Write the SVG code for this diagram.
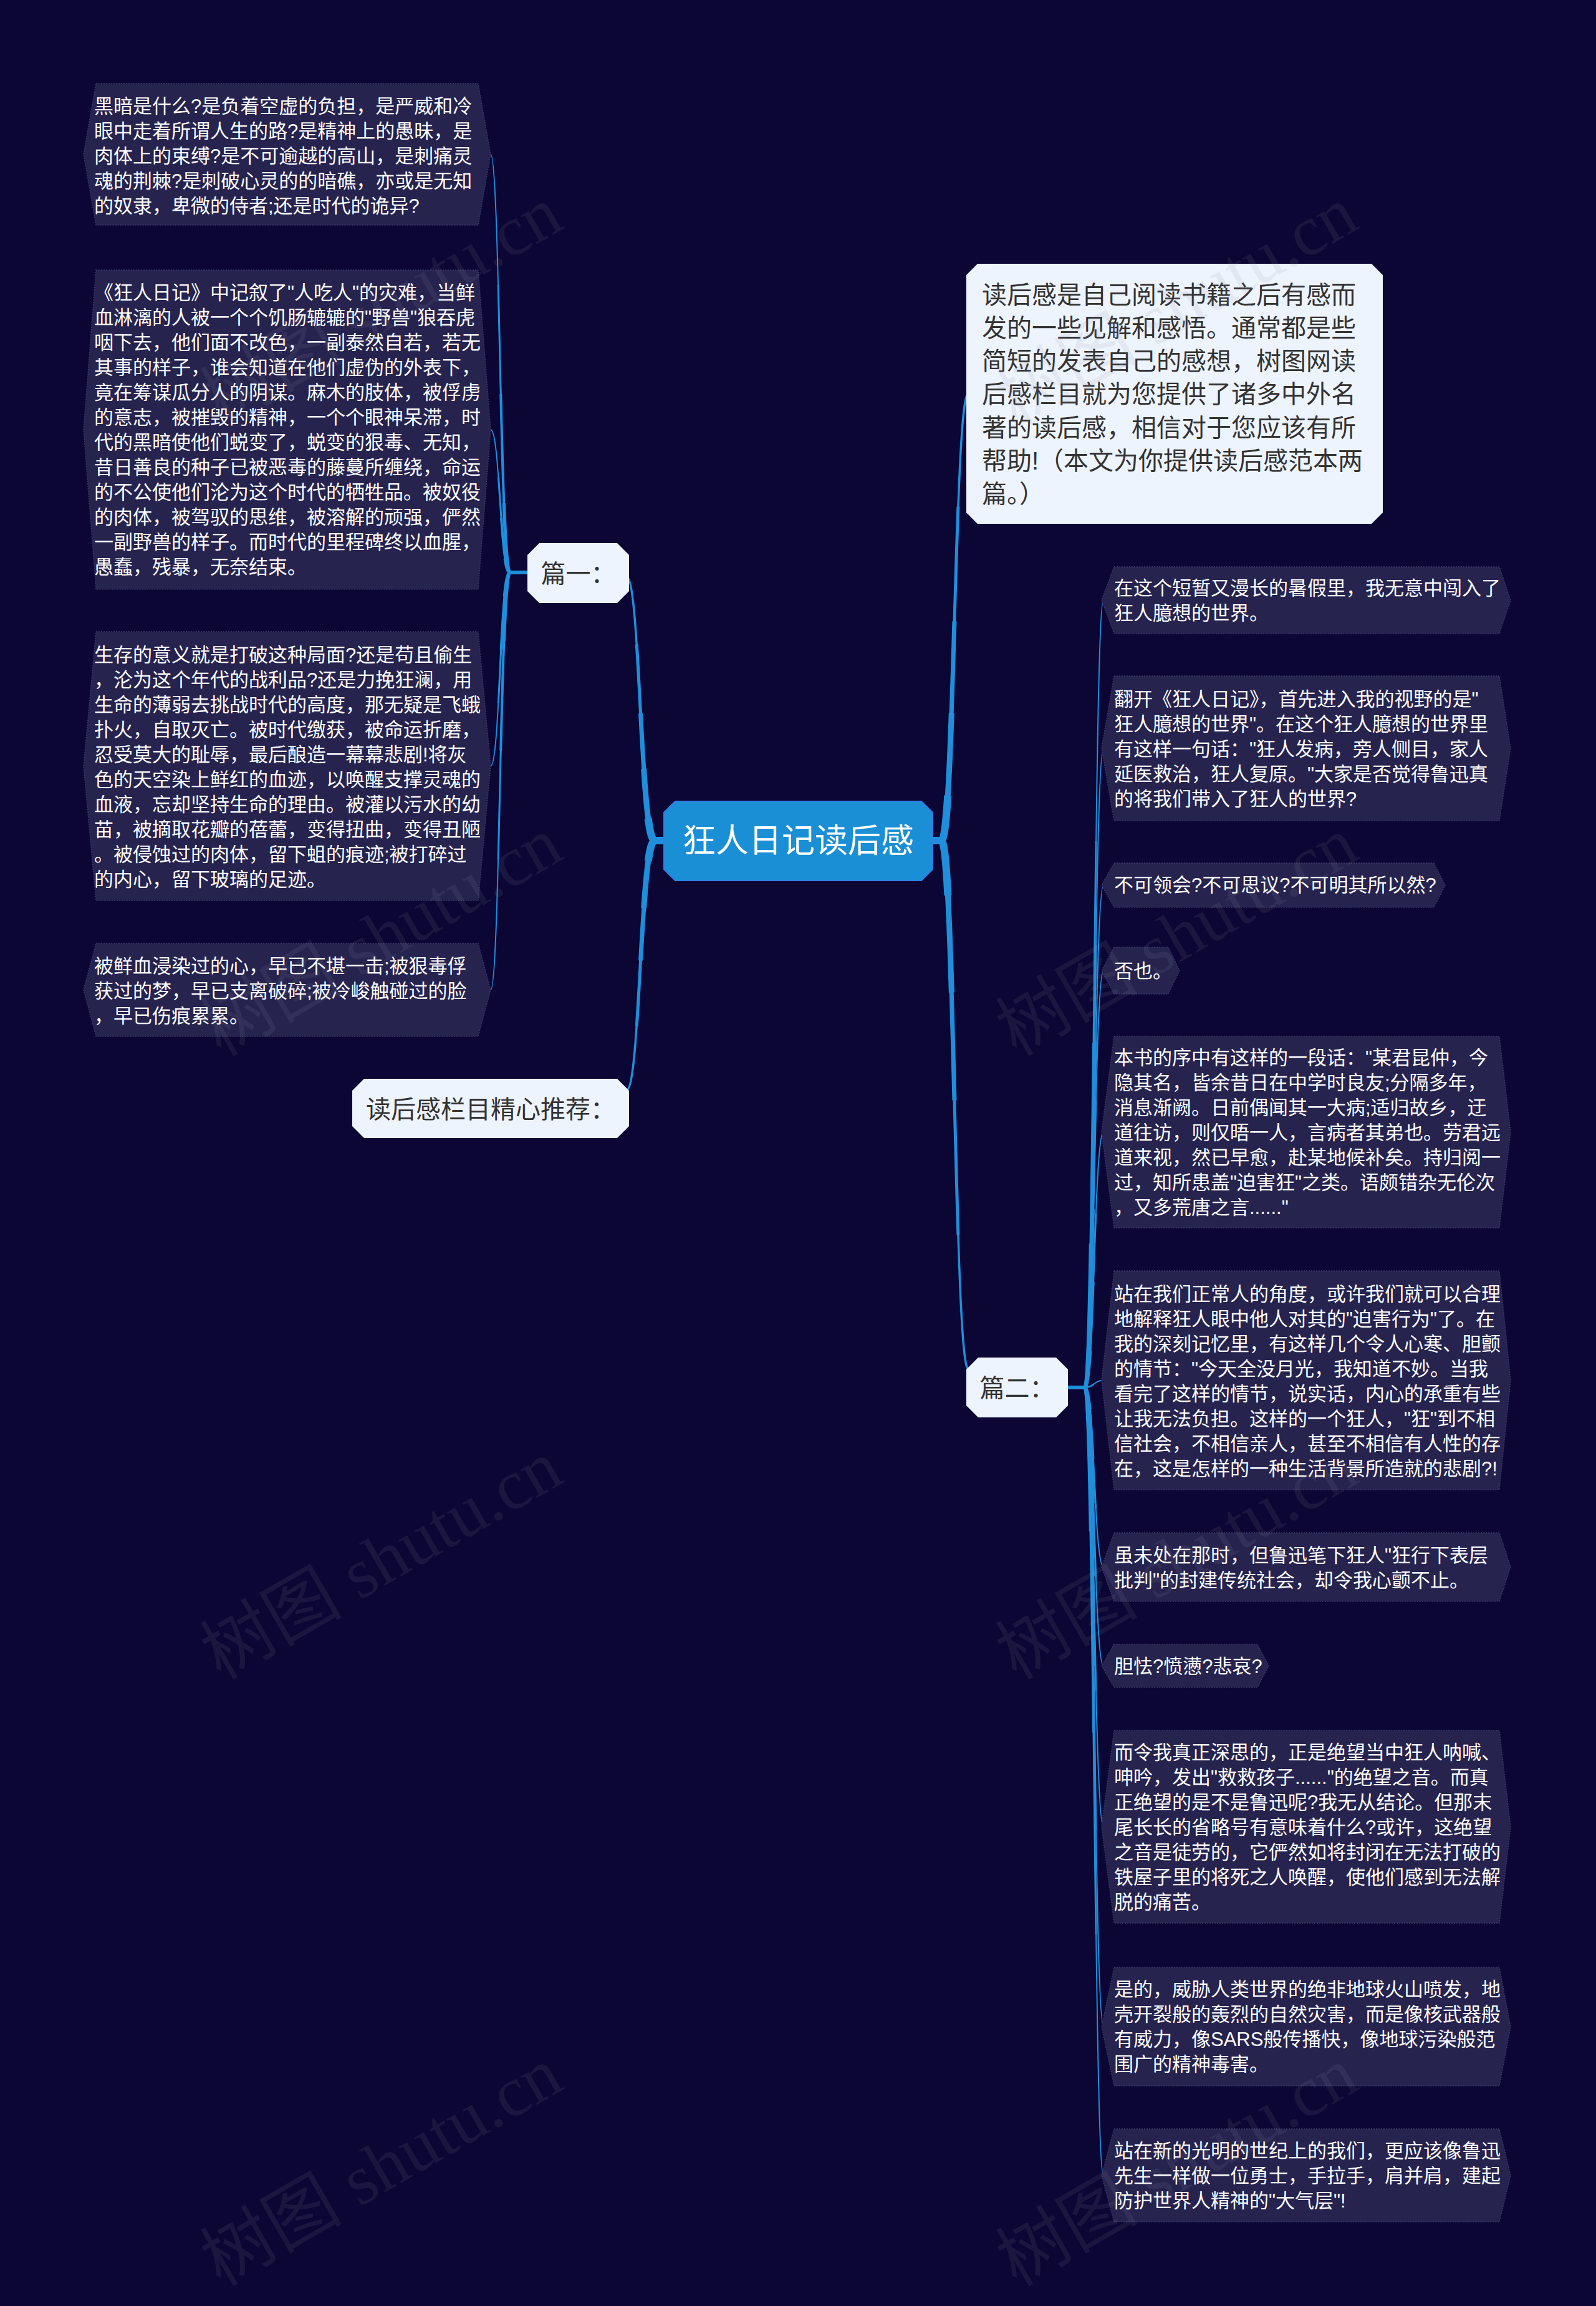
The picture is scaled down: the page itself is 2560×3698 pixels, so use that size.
<svg xmlns="http://www.w3.org/2000/svg" xmlns:xlink="http://www.w3.org/1999/xlink" width="2560" height="3698" viewBox="0 0 2560 3698">
<style>
.bg{fill:#0b0633}
.dk{fill:#26234f;stroke:#3b3867;stroke-width:1.5;stroke-dasharray:2 2}
.lt{fill:#eef4fd}
.rt{fill:#1b8fd6;stroke:#2f7fe6;stroke-width:2}
.tw{font-family:"Liberation Sans","Noto Sans CJK SC",sans-serif;font-size:31px;fill:#ffffff}
.td{font-family:"Liberation Sans","Noto Sans CJK SC",sans-serif;font-size:40px;fill:#333333}
.tr{font-family:"Liberation Sans","Noto Sans CJK SC",sans-serif;font-size:53px;fill:#ffffff}
.a1{stroke-width:3.5}
.a2{stroke-width:5;stroke-dasharray:75 100}
.a3{stroke-width:7;stroke-dasharray:50 100}
.a4{stroke-width:9;stroke-dasharray:30 100}
.a5{stroke-width:12;stroke-dasharray:12 100}
.b1{stroke-width:2}
.b2{stroke-width:3;stroke-dasharray:70 100}
.b3{stroke-width:4;stroke-dasharray:45 100}
.b4{stroke-width:5.5;stroke-dasharray:20 100}
.wm{font-family:"Liberation Serif","Noto Sans CJK SC",serif;font-size:114px;fill:#8a8aa6;fill-opacity:0.12}
</style>
<rect class="bg" x="0" y="0" width="2560" height="3698"/>

<g id="connectors" fill="none" stroke="#1f8fdb">
  <g class="a1">
    <g id="rootlinks">
      <path pathLength="100" d="M1065,1348 H1050 C1027,1348 1027,925 1005,925"/>
      <path pathLength="100" d="M1065,1348 H1050 C1027,1348 1027,1748 1005,1748"/>
      <path pathLength="100" d="M1496,1348 H1510 C1531,1348 1531,631 1553,631"/>
      <path pathLength="100" d="M1496,1348 H1510 C1531,1348 1531,2195 1553,2195"/>
    </g>
  </g>
  <use xlink:href="#rootlinks" class="a2"/>
  <use xlink:href="#rootlinks" class="a3"/>
  <use xlink:href="#rootlinks" class="a4"/>
  <use xlink:href="#rootlinks" class="a5"/>
  <g class="b1">
    <g id="childlinks">
      <path pathLength="100" d="M846,918 H818 C802,918 802,247.5 787,247.5"/>
      <path pathLength="100" d="M846,918 H818 C802,918 802,689 787,689"/>
      <path pathLength="100" d="M846,918 H818 C802,918 802,1228.5 787,1228.5"/>
      <path pathLength="100" d="M846,918 H818 C802,918 802,1587.5 787,1587.5"/>
      <path pathLength="100" d="M1713,2225 H1740 C1755,2225 1755,962.5 1770,962.5"/>
      <path pathLength="100" d="M1713,2225 H1740 C1755,2225 1755,1200 1770,1200"/>
      <path pathLength="100" d="M1713,2225 H1740 C1755,2225 1755,1419.5 1770,1419.5"/>
      <path pathLength="100" d="M1713,2225 H1740 C1755,2225 1755,1556.5 1770,1556.5"/>
      <path pathLength="100" d="M1713,2225 H1740 C1755,2225 1755,1815.5 1770,1815.5"/>
      <path pathLength="100" d="M1713,2225 H1740 C1755,2225 1755,2213.5 1770,2213.5"/>
      <path pathLength="100" d="M1713,2225 H1740 C1755,2225 1755,2513 1770,2513"/>
      <path pathLength="100" d="M1713,2225 H1740 C1755,2225 1755,2671.5 1770,2671.5"/>
      <path pathLength="100" d="M1713,2225 H1740 C1755,2225 1755,2929.5 1770,2929.5"/>
      <path pathLength="100" d="M1713,2225 H1740 C1755,2225 1755,3250 1770,3250"/>
      <path pathLength="100" d="M1713,2225 H1740 C1755,2225 1755,3488.5 1770,3488.5"/>
    </g>
  </g>
  <use xlink:href="#childlinks" class="b2"/>
  <use xlink:href="#childlinks" class="b3"/>
  <use xlink:href="#childlinks" class="b4"/>
</g>

<g id="root">
  <polygon class="rt" points="1083,1285 1478,1285 1496,1303 1496,1394 1478,1412 1083,1412 1065,1394 1065,1303"/>
  <text class="tr" x="1280.5" y="1367" text-anchor="middle">狂人日记读后感</text>
</g>

<g id="summary">
  <polygon class="lt" points="1568,423 2200,423 2218,441 2218,822 2200,840 1568,840 1550,822 1550,441"/>
  <text class="td" x="1575" y="487">
    <tspan x="1575" y="487">读后感是自己阅读书籍之后有感而</tspan>
    <tspan x="1575" y="540">发的一些见解和感悟。通常都是些</tspan>
    <tspan x="1575" y="593">简短的发表自己的感想，树图网读</tspan>
    <tspan x="1575" y="646">后感栏目就为您提供了诸多中外名</tspan>
    <tspan x="1575" y="700">著的读后感，相信对于您应该有所</tspan>
    <tspan x="1575" y="753">帮助!（本文为你提供读后感范本两</tspan>
    <tspan x="1575" y="806">篇。）</tspan>
  </text>
</g>

<g id="part1">
  <polygon class="lt" points="865,871 990,871 1009,890 1009,948 990,967 865,967 846,948 846,890"/>
  <text class="td" x="927.5" y="934" text-anchor="middle">篇一：</text>
</g>

<g id="recommend">
  <polygon class="lt" points="584,1730 990,1730 1009,1749 1009,1806 990,1825 584,1825 565,1806 565,1749"/>
  <text class="td" x="787" y="1793" text-anchor="middle">读后感栏目精心推荐：</text>
</g>

<g id="part2">
  <polygon class="lt" points="1569,2177 1694,2177 1713,2196 1713,2254 1694,2273 1569,2273 1550,2254 1550,2196"/>
  <text class="td" x="1631.5" y="2240" text-anchor="middle">篇二：</text>
</g>

<g id="p1-1">
  <polygon class="dk" points="154,134 767,134 787,247.5 767,361 154,361 134,247.5"/>
  <text class="tw">
    <tspan x="151" y="181">黑暗是什么?是负着空虚的负担，是严威和冷</tspan>
    <tspan x="151" dy="40">眼中走着所谓人生的路?是精神上的愚昧，是</tspan>
    <tspan x="151" dy="40">肉体上的束缚?是不可逾越的高山，是刺痛灵</tspan>
    <tspan x="151" dy="40">魂的荆棘?是刺破心灵的的暗礁，亦或是无知</tspan>
    <tspan x="151" dy="40">的奴隶，卑微的侍者;还是时代的诡异?</tspan>
  </text>
</g>

<g id="p1-2">
  <polygon class="dk" points="154,433 767,433 787,689 767,945 154,945 134,689"/>
  <text class="tw">
    <tspan x="151" y="480">《狂人日记》中记叙了"人吃人"的灾难，当鲜</tspan>
    <tspan x="151" dy="40">血淋漓的人被一个个饥肠辘辘的"野兽"狼吞虎</tspan>
    <tspan x="151" dy="40">咽下去，他们面不改色，一副泰然自若，若无</tspan>
    <tspan x="151" dy="40">其事的样子，谁会知道在他们虚伪的外表下，</tspan>
    <tspan x="151" dy="40">竟在筹谋瓜分人的阴谋。麻木的肢体，被俘虏</tspan>
    <tspan x="151" dy="40">的意志，被摧毁的精神，一个个眼神呆滞，时</tspan>
    <tspan x="151" dy="40">代的黑暗使他们蜕变了，蜕变的狠毒、无知，</tspan>
    <tspan x="151" dy="40">昔日善良的种子已被恶毒的藤蔓所缠绕，命运</tspan>
    <tspan x="151" dy="40">的不公使他们沦为这个时代的牺牲品。被奴役</tspan>
    <tspan x="151" dy="40">的肉体，被驾驭的思维，被溶解的顽强，俨然</tspan>
    <tspan x="151" dy="40">一副野兽的样子。而时代的里程碑终以血腥，</tspan>
    <tspan x="151" dy="40">愚蠢，残暴，无奈结束。</tspan>
  </text>
</g>

<g id="p1-3">
  <polygon class="dk" points="154,1013 767,1013 787,1228.5 767,1444 154,1444 134,1228.5"/>
  <text class="tw">
    <tspan x="151" y="1061">生存的意义就是打破这种局面?还是苟且偷生</tspan>
    <tspan x="151" dy="40">，沦为这个年代的战利品?还是力挽狂澜，用</tspan>
    <tspan x="151" dy="40">生命的薄弱去挑战时代的高度，那无疑是飞蛾</tspan>
    <tspan x="151" dy="40">扑火，自取灭亡。被时代缴获，被命运折磨，</tspan>
    <tspan x="151" dy="40">忍受莫大的耻辱，最后酿造一幕幕悲剧!将灰</tspan>
    <tspan x="151" dy="40">色的天空染上鲜红的血迹，以唤醒支撑灵魂的</tspan>
    <tspan x="151" dy="40">血液，忘却坚持生命的理由。被灌以污水的幼</tspan>
    <tspan x="151" dy="40">苗，被摘取花瓣的蓓蕾，变得扭曲，变得丑陋</tspan>
    <tspan x="151" dy="40">。被侵蚀过的肉体，留下蛆的痕迹;被打碎过</tspan>
    <tspan x="151" dy="40">的内心，留下玻璃的足迹。</tspan>
  </text>
</g>

<g id="p1-4">
  <polygon class="dk" points="154,1513 767,1513 787,1587.5 767,1662 154,1662 134,1587.5"/>
  <text class="tw">
    <tspan x="151" y="1560">被鲜血浸染过的心，早已不堪一击;被狠毒俘</tspan>
    <tspan x="151" dy="40">获过的梦，早已支离破碎;被冷峻触碰过的脸</tspan>
    <tspan x="151" dy="40">，早已伤痕累累。</tspan>
  </text>
</g>

<g id="p2-1">
  <polygon class="dk" points="1787,909 2405,909 2423,962.5 2405,1016 1787,1016 1767,962.5"/>
  <text class="tw">
    <tspan x="1787" y="954">在这个短暂又漫长的暑假里，我无意中闯入了</tspan>
    <tspan x="1787" dy="40">狂人臆想的世界。</tspan>
  </text>
</g>

<g id="p2-2">
  <polygon class="dk" points="1787,1084 2405,1084 2423,1200 2405,1316 1787,1316 1767,1200"/>
  <text class="tw">
    <tspan x="1787" y="1132">翻开《狂人日记》，首先进入我的视野的是"</tspan>
    <tspan x="1787" dy="40">狂人臆想的世界"。在这个狂人臆想的世界里</tspan>
    <tspan x="1787" dy="40">有这样一句话："狂人发病，旁人侧目，家人</tspan>
    <tspan x="1787" dy="40">延医救治，狂人复原。"大家是否觉得鲁迅真</tspan>
    <tspan x="1787" dy="40">的将我们带入了狂人的世界?</tspan>
  </text>
</g>

<g id="p2-3">
  <polygon class="dk" points="1787,1384 2300,1384 2318,1419.5 2300,1455 1787,1455 1767,1419.5"/>
  <text class="tw" x="1787" y="1430">不可领会?不可思议?不可明其所以然?</text>
</g>

<g id="p2-4">
  <polygon class="dk" points="1787,1519 1874,1519 1892,1556.5 1874,1594 1787,1594 1767,1556.5"/>
  <text class="tw" x="1787" y="1568">否也。</text>
</g>

<g id="p2-5">
  <polygon class="dk" points="1787,1662 2405,1662 2423,1815.5 2405,1969 1787,1969 1767,1815.5"/>
  <text class="tw">
    <tspan x="1787" y="1707">本书的序中有这样的一段话："某君昆仲，今</tspan>
    <tspan x="1787" dy="40">隐其名，皆余昔日在中学时良友;分隔多年，</tspan>
    <tspan x="1787" dy="40">消息渐阙。日前偶闻其一大病;适归故乡，迂</tspan>
    <tspan x="1787" dy="40">道往访，则仅晤一人，言病者其弟也。劳君远</tspan>
    <tspan x="1787" dy="40">道来视，然已早愈，赴某地候补矣。持归阅一</tspan>
    <tspan x="1787" dy="40">过，知所患盖"迫害狂"之类。语颇错杂无伦次</tspan>
    <tspan x="1787" dy="40">，又多荒唐之言......"</tspan>
  </text>
</g>

<g id="p2-6">
  <polygon class="dk" points="1787,2038 2405,2038 2423,2213.5 2405,2389 1787,2389 1767,2213.5"/>
  <text class="tw">
    <tspan x="1787" y="2086">站在我们正常人的角度，或许我们就可以合理</tspan>
    <tspan x="1787" dy="40">地解释狂人眼中他人对其的"迫害行为"了。在</tspan>
    <tspan x="1787" dy="40">我的深刻记忆里，有这样几个令人心寒、胆颤</tspan>
    <tspan x="1787" dy="40">的情节："今天全没月光，我知道不妙。当我</tspan>
    <tspan x="1787" dy="40">看完了这样的情节，说实话，内心的承重有些</tspan>
    <tspan x="1787" dy="40">让我无法负担。这样的一个狂人，"狂"到不相</tspan>
    <tspan x="1787" dy="40">信社会，不相信亲人，甚至不相信有人性的存</tspan>
    <tspan x="1787" dy="40">在，这是怎样的一种生活背景所造就的悲剧?!</tspan>
  </text>
</g>

<g id="p2-7">
  <polygon class="dk" points="1787,2458 2405,2458 2423,2513 2405,2568 1787,2568 1767,2513"/>
  <text class="tw">
    <tspan x="1787" y="2505">虽未处在那时，但鲁迅笔下狂人"狂行下表层</tspan>
    <tspan x="1787" dy="40">批判"的封建传统社会，却令我心颤不止。</tspan>
  </text>
</g>

<g id="p2-8">
  <polygon class="dk" points="1787,2637 2017,2637 2035,2671.5 2017,2706 1787,2706 1767,2671.5"/>
  <text class="tw" x="1787" y="2683">胆怯?愤懑?悲哀?</text>
</g>

<g id="p2-9">
  <polygon class="dk" points="1787,2775 2405,2775 2423,2929.5 2405,3084 1787,3084 1767,2929.5"/>
  <text class="tw">
    <tspan x="1787" y="2821">而令我真正深思的，正是绝望当中狂人呐喊、</tspan>
    <tspan x="1787" dy="40">呻吟，发出"救救孩子......"的绝望之音。而真</tspan>
    <tspan x="1787" dy="40">正绝望的是不是鲁迅呢?我无从结论。但那末</tspan>
    <tspan x="1787" dy="40">尾长长的省略号有意味着什么?或许，这绝望</tspan>
    <tspan x="1787" dy="40">之音是徒劳的，它俨然如将封闭在无法打破的</tspan>
    <tspan x="1787" dy="40">铁屋子里的将死之人唤醒，使他们感到无法解</tspan>
    <tspan x="1787" dy="40">脱的痛苦。</tspan>
  </text>
</g>

<g id="p2-10">
  <polygon class="dk" points="1787,3155 2405,3155 2423,3250 2405,3345 1787,3345 1767,3250"/>
  <text class="tw">
    <tspan x="1787" y="3201">是的，威胁人类世界的绝非地球火山喷发，地</tspan>
    <tspan x="1787" dy="40">壳开裂般的轰烈的自然灾害，而是像核武器般</tspan>
    <tspan x="1787" dy="40">有威力，像SARS般传播快，像地球污染般范</tspan>
    <tspan x="1787" dy="40">围广的精神毒害。</tspan>
  </text>
</g>

<g id="p2-11">
  <polygon class="dk" points="1787,3414 2405,3414 2423,3488.5 2405,3563 1787,3563 1767,3488.5"/>
  <text class="tw">
    <tspan x="1787" y="3460">站在新的光明的世纪上的我们，更应该像鲁迅</tspan>
    <tspan x="1787" dy="40">先生一样做一位勇士，手拉手，肩并肩，建起</tspan>
    <tspan x="1787" dy="40">防护世界人精神的"大气层"!</tspan>
  </text>
</g>

<g id="watermark" class="wm">
  <text x="354" y="684" transform="rotate(-30 354 684)">树图 shutu.cn</text>
  <text x="1630" y="684" transform="rotate(-30 1630 684)">树图 shutu.cn</text>
  <text x="354" y="1695" transform="rotate(-30 354 1695)">树图 shutu.cn</text>
  <text x="1630" y="1695" transform="rotate(-30 1630 1695)">树图 shutu.cn</text>
  <text x="354" y="2695" transform="rotate(-30 354 2695)">树图 shutu.cn</text>
  <text x="1630" y="2695" transform="rotate(-30 1630 2695)">树图 shutu.cn</text>
  <text x="354" y="3668" transform="rotate(-30 354 3668)">树图 shutu.cn</text>
  <text x="1630" y="3668" transform="rotate(-30 1630 3668)">树图 shutu.cn</text>
</g>
</svg>
